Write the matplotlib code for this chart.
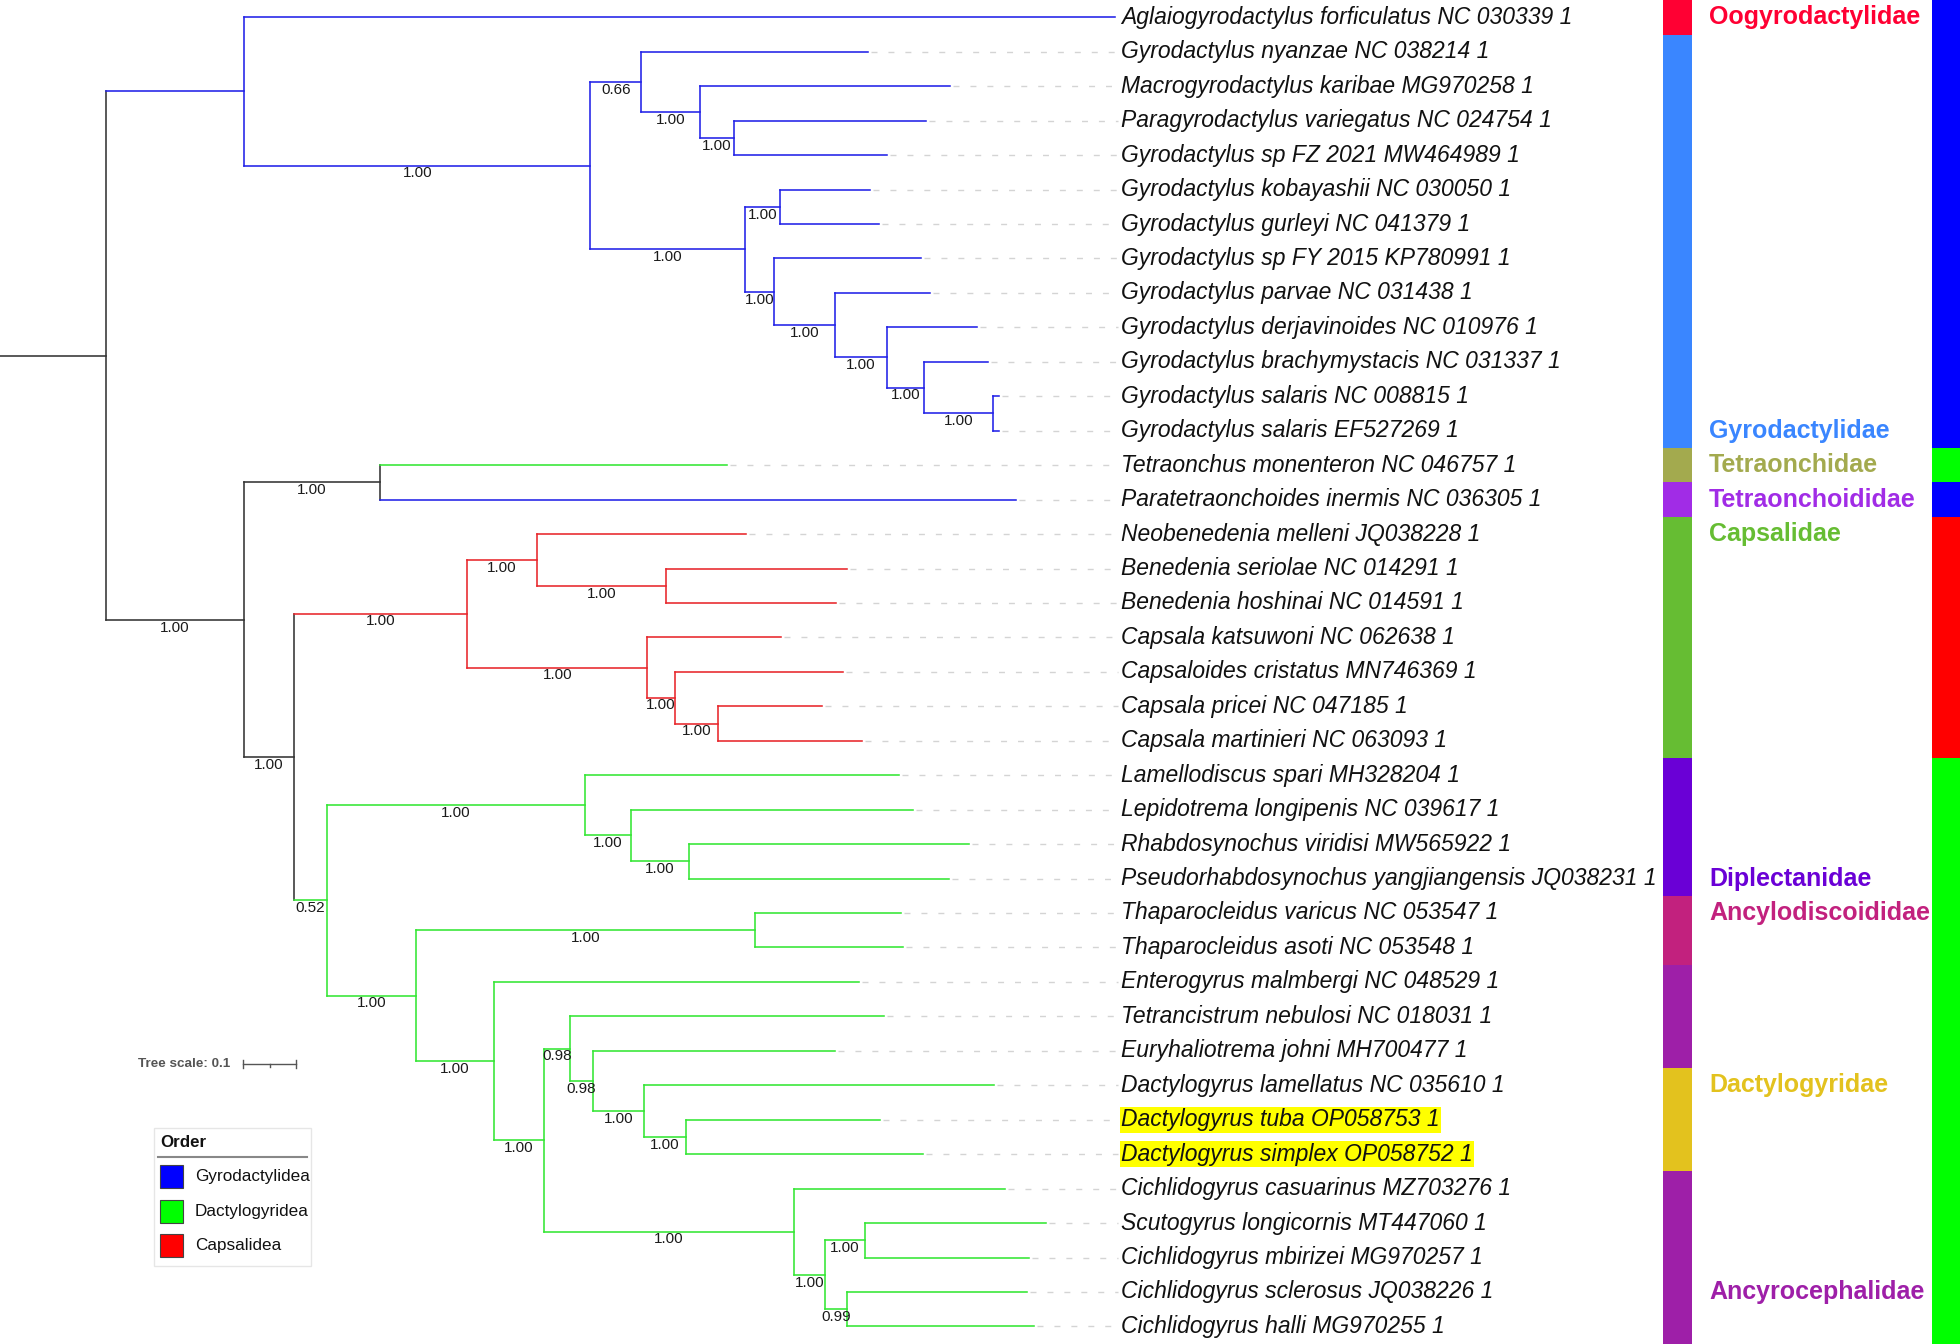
import matplotlib.pyplot as plt
from matplotlib.patches import Rectangle

plt.rcParams['font.family'] = ['Liberation Sans', 'DejaVu Sans']

# tree (branch lengths in substitutions/site, internal labels = posterior support)
newick = (
    "((Aglaiogyrodactylus_forficulatus_NC_030339_1:1.661,"
    "((Gyrodactylus_nyanzae_NC_038214_1:0.4338,"
    "(Macrogyrodactylus_karibae_MG970258_1:0.4779,"
    "(Paragyrodactylus_variegatus_NC_024754_1:0.366,Gyrodactylus_sp_FZ_2021_MW464989_1:0.292)1.00:0.0649)1.00:0.1124)0.66:0.0971,"
    "((Gyrodactylus_kobayashii_NC_030050_1:0.1721,Gyrodactylus_gurleyi_NC_041379_1:0.1889)1.00:0.0666,"
    "(Gyrodactylus_sp_FY_2015_KP780991_1:0.2802,"
    "(Gyrodactylus_parvae_NC_031438_1:0.1819,"
    "(Gyrodactylus_derjavinoides_NC_010976_1:0.1714,"
    "(Gyrodactylus_brachymystacis_NC_031337_1:0.1233,"
    "(Gyrodactylus_salaris_NC_008815_1:0.0109,Gyrodactylus_salaris_EF527269_1:0.0109)1.00:0.1321)1.00:0.0698)1.00:0.0996)1.00:0.1158)1.00:0.0555)1.00:0.2956)1.00:0.660):0.2645,"
    "((Tetraonchus_monenteron_NC_046757_1:0.662,Paratetraonchoides_inermis_NC_036305_1:1.2145)1.00:0.2592,"
    "(((Neobenedenia_melleni_JQ038228_1:0.3998,"
    "(Benedenia_seriolae_NC_014291_1:0.3445,Benedenia_hoshinai_NC_014591_1:0.3244)1.00:0.2471)1.00:0.1326,"
    "(Capsala_katsuwoni_NC_062638_1:0.2555,"
    "(Capsaloides_cristatus_MN746369_1:0.3198,"
    "(Capsala_pricei_NC_047185_1:0.1977,Capsala_martinieri_NC_063093_1:0.2746)1.00:0.0824)1.00:0.0536)1.00:0.3431)1.00:0.3311,"
    "((Lamellodiscus_spari_MH328204_1:0.5989,"
    "(Lepidotrema_longipenis_NC_039617_1:0.5382,"
    "(Rhabdosynochus_viridisi_MW565922_1:0.5347,Pseudorhabdosynochus_yangjiangensis_JQ038231_1:0.4973)1.00:0.1109)1.00:0.0863)1.00:0.4929,"
    "((Thaparocleidus_varicus_NC_053547_1:0.278,Thaparocleidus_asoti_NC_053548_1:0.2826)1.00:0.6475,"
    "(Enterogyrus_malmbergi_NC_048529_1:0.696,"
    "((Tetrancistrum_nebulosi_NC_018031_1:0.5989,"
    "(Euryhaliotrema_johni_MH700477_1:0.4628,"
    "(Dactylogyrus_lamellatus_NC_035610_1:0.6681,"
    "(Dactylogyrus_tuba_OP058753_1:0.3695,Dactylogyrus_simplex_OP058752_1:0.4519)1.00:0.0803)1.00:0.0973)0.98:0.0437)0.98:0.05,"
    "(Cichlidogyrus_casuarinus_MZ703276_1:0.4029,"
    "((Scutogyrus_longicornis_MT447060_1:0.3458,Cichlidogyrus_mbirizei_MG970257_1:0.313)1.00:0.076,"
    "(Cichlidogyrus_sclerosus_JQ038226_1:0.3431,Cichlidogyrus_halli_MG970255_1:0.3574)0.99:0.0424)1.00:0.0588)1.00:0.4775)1.00:0.0948)1.00:0.1498)1.00:0.1691)0.52:0.0634)1.00:0.0948)1.00:0.2639):0.202;"
)

# annotation strips (blocks in leaf order, top to bottom)
family_names = ['Oogyrodactylidae', 'Gyrodactylidae', 'Tetraonchidae', 'Tetraonchoididae',
                'Capsalidae', 'Diplectanidae', 'Ancylodiscoididae', 'Ancyrocephalidae',
                'Dactylogyridae', 'Ancyrocephalidae']
family_counts = [1, 12, 1, 1, 7, 4, 2, 3, 3, 5]
family_label_rows = {'Oogyrodactylidae': 0, 'Gyrodactylidae': 12, 'Tetraonchidae': 13,
                     'Tetraonchoididae': 14, 'Capsalidae': 15, 'Diplectanidae': 25,
                     'Ancylodiscoididae': 26, 'Dactylogyridae': 31, 'Ancyrocephalidae': 37}
family_colors = {'Oogyrodactylidae': '#ff0033', 'Gyrodactylidae': '#3a86ff',
                 'Tetraonchidae': '#a3aa4e', 'Tetraonchoididae': '#a12ce6',
                 'Capsalidae': '#66bd33', 'Diplectanidae': '#6a00d6',
                 'Ancylodiscoididae': '#c2217e', 'Ancyrocephalidae': '#9e1fa8',
                 'Dactylogyridae': '#e3c21e'}

order_names = ['Gyrodactylidea', 'Dactylogyridea', 'Gyrodactylidea', 'Capsalidea', 'Dactylogyridea']
order_counts = [13, 1, 1, 7, 17]
order_legend = ['Gyrodactylidea', 'Dactylogyridea', 'Capsalidea']
order_colors = {'Gyrodactylidea': '#0000ff', 'Dactylogyridea': '#00ff00', 'Capsalidea': '#ff0000'}
branch_colors = {'Gyrodactylidea': '#2222e8', 'Dactylogyridea': '#33e633', 'Capsalidea': '#e8262b'}

highlighted = ['Dactylogyrus tuba OP058753 1', 'Dactylogyrus simplex OP058752 1']


def parse_newick(s):
    pos = 0

    def node():
        nonlocal pos
        n = {'children': [], 'name': '', 'length': 0.0, 'support': None}
        if s[pos] == '(':
            pos += 1
            while True:
                n['children'].append(node())
                if s[pos] == ',':
                    pos += 1
                    continue
                pos += 1
                break
        start = pos
        while s[pos] not in ':,);':
            pos += 1
        label = s[start:pos]
        if n['children']:
            n['support'] = label or None
        else:
            n['name'] = label.replace('_', ' ')
        if s[pos] == ':':
            pos += 1
            start = pos
            while s[pos] not in ',);':
                pos += 1
            n['length'] = float(s[start:pos])
        return n

    return node()


tree = parse_newick(newick)
leaves = []


def layout(n, x_parent):
    n['x0'] = x_parent
    n['x'] = x_parent + n['length']
    if n['children']:
        for c in n['children']:
            layout(c, n['x'])
        n['y'] = (n['children'][0]['y'] + n['children'][-1]['y']) / 2
    else:
        n['y'] = len(leaves)
        leaves.append(n)


layout(tree, 0.0)

leaf_orders = []
for name, cnt in zip(order_names, order_counts):
    leaf_orders += [name] * cnt
for leaf, o in zip(leaves, leaf_orders):
    leaf['order'] = o


def set_colors(n):
    if n['children']:
        s = set()
        for c in n['children']:
            s |= set_colors(c)
    else:
        s = {n['order']}
    n['color'] = branch_colors[next(iter(s))] if len(s) == 1 else '#333333'
    return s


set_colors(tree)

# figure: 1 data unit = 524 px, one row = 34.45 px, first row 17 px from top
W, H = 1960, 1344
PX_UNIT = 524.0
ROW = 34.45
TOP = 17.3


def px(v):
    return v / PX_UNIT


def py(v):
    return (v - TOP) / ROW


fig = plt.figure(figsize=(W / 100, H / 100), dpi=100)
ax = fig.add_axes([0, 0, 1, 1])
ax.set_xlim(0, px(W))
ax.set_ylim(py(H), py(0))
ax.axis('off')

LW = 1.15


def draw(n):
    ax.plot([n['x0'], n['x']], [n['y'], n['y']], color=n['color'], lw=LW,
            solid_capstyle='projecting')
    if n['children']:
        ax.plot([n['x'], n['x']], [n['children'][0]['y'], n['children'][-1]['y']],
                color=n['color'], lw=LW, solid_capstyle='projecting')
        if n['support']:
            ax.annotate(n['support'], xy=((n['x0'] + n['x']) / 2, n['y']),
                        xytext=(0, -5.6), textcoords='offset points',
                        ha='center', va='center', fontsize=11, color='#1a1a1a')
        for c in n['children']:
            draw(c)


draw(tree)

label_x = px(1121)
for leaf in leaves:
    if leaf['x'] < px(1110):
        ax.plot([leaf['x'] + px(3), px(1118)], [leaf['y'], leaf['y']], color='#d4d4d4',
                lw=1.0, dashes=(4.3, 7.9))
    kw = {}
    if leaf['name'] in highlighted:
        kw['bbox'] = dict(boxstyle='square,pad=0.06', fc='#ffff00', ec='none')
    ax.text(label_x, leaf['y'], leaf['name'], fontsize=16.5, style='italic',
            ha='left', va='center', color='#111111', **kw)

# family strip + labels
row = 0
for name, cnt in zip(family_names, family_counts):
    ax.add_patch(Rectangle((px(1663), row - 0.5), px(29), cnt,
                           fc=family_colors[name], ec='none'))
    row += cnt
for name, r in family_label_rows.items():
    ax.text(px(1709), r, name, fontsize=18, fontweight='bold',
            color=family_colors[name], ha='left', va='center')

# order strip
row = 0
for name, cnt in zip(order_names, order_counts):
    ax.add_patch(Rectangle((px(1932), row - 0.5), px(W - 1932), cnt,
                           fc=order_colors[name], ec='none', zorder=3))
    row += cnt

# tree scale
sy = py(1064)
ax.text(px(138), sy, 'Tree scale: 0.1', fontsize=9.7, fontweight='bold',
        color='#555555', ha='left', va='center')
sx = px(243.3)
ax.plot([sx, sx + 0.1], [sy, sy], color='#555555', lw=1)
for xx in (sx, sx + 0.1):
    ax.plot([xx, xx], [sy - 4 / ROW, sy + 4 / ROW], color='#555555', lw=1)
ax.plot([sx + 0.05, sx + 0.05], [sy, sy + 3 / ROW], color='#555555', lw=1)

# legend
ax.add_patch(Rectangle((px(154.3), py(1128.3)), px(156.4), (1266 - 1128.3) / ROW,
                       fc='white', ec='#e6e6e6', lw=1))
ax.text(px(160), py(1142.3), 'Order', fontsize=12.2, fontweight='bold',
        ha='left', va='center', color='#111111')
ax.plot([px(158), px(307)], [py(1157), py(1157)], color='#888888', lw=1.5)
for i, name in enumerate(order_legend):
    cy = 1176.7 + i * 34.4
    ax.add_patch(Rectangle((px(160), py(cy - 11.5)), px(23), 23 / ROW,
                           fc=order_colors[name], ec='#444444', lw=0.8))
    ax.text(px(195), py(cy), name, fontsize=12.3, ha='left', va='center',
            color='#111111')

fig.savefig('out.png', dpi=100)
